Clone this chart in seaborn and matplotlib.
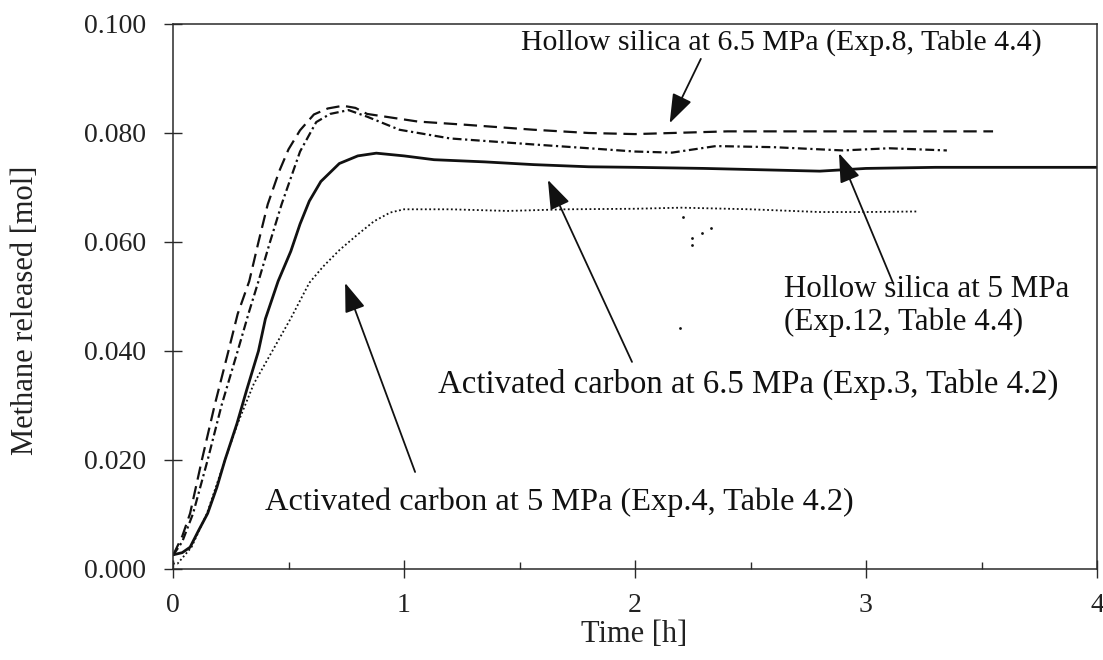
import matplotlib
matplotlib.use("Agg")
import numpy as np
import pandas as pd
import matplotlib.pyplot as plt
import seaborn as sns
from matplotlib.ticker import MultipleLocator, FormatStrFormatter

sns.set_theme(style="ticks")
plt.rcParams["font.family"] = ["Liberation Serif", "DejaVu Serif"]

# Hollow silica at 6.5 MPa (Exp.8)
hs65_t = [0, 0.04, 0.074, 0.125, 0.18, 0.24, 0.28, 0.33, 0.37, 0.41, 0.46, 0.50,
          0.55, 0.61, 0.67, 0.736, 0.79, 0.84, 0.95, 1.06, 1.27, 1.56, 1.8, 2.0,
          2.16, 2.4, 2.8, 3.2, 3.55]
hs65_y = [0.0025, 0.006, 0.0102, 0.020, 0.030, 0.040, 0.0468, 0.0528, 0.060, 0.0669,
          0.0730, 0.0770, 0.0805, 0.0834, 0.0845, 0.0850, 0.0846, 0.0835, 0.0828,
          0.0821, 0.0815, 0.0806, 0.0800, 0.0798, 0.0800, 0.0803, 0.0803, 0.0803, 0.0803]

# Hollow silica at 5 MPa (Exp.12)
hs5_t = [0, 0.04, 0.087, 0.15, 0.21, 0.28, 0.33, 0.37, 0.42, 0.47, 0.55, 0.62, 0.68,
         0.76, 0.84, 0.98, 1.2, 1.56, 1.8, 2.0, 2.16, 2.35, 2.6, 2.9, 3.1, 3.35]
hs5_y = [0.0025, 0.005, 0.0102, 0.020, 0.030, 0.040, 0.0473, 0.0528, 0.060, 0.0669,
         0.0766, 0.0820, 0.0835, 0.0842, 0.0830, 0.0806, 0.0790, 0.0779, 0.0772,
         0.0766, 0.0764, 0.0776, 0.0774, 0.0768, 0.0772, 0.0768]

# Activated carbon at 6.5 MPa (Exp.3)
ac65_t = [0, 0.04, 0.074, 0.11, 0.15, 0.19, 0.225, 0.277, 0.32, 0.37, 0.40, 0.455,
          0.51, 0.55, 0.59, 0.64, 0.72, 0.80, 0.88, 1.0, 1.13, 1.35, 1.56, 1.8, 2.0,
          2.3, 2.6, 2.8, 3.0, 3.3, 3.6, 4.0]
ac65_y = [0.0026, 0.003, 0.004, 0.007, 0.0102, 0.015, 0.020, 0.0267, 0.033, 0.040,
          0.0459, 0.0528, 0.0583, 0.0633, 0.0675, 0.0711, 0.0744, 0.0758, 0.0763,
          0.0758, 0.0751, 0.0747, 0.0742, 0.0738, 0.0737, 0.0735, 0.0732, 0.0730,
          0.0735, 0.0737, 0.0737, 0.0737]

# Activated carbon at 5 MPa (Exp.4)
ac5_t = [0, 0.02, 0.08, 0.147, 0.225, 0.28, 0.35, 0.43, 0.51, 0.59, 0.65, 0.72, 0.80,
         0.87, 0.94, 1.0, 1.2, 1.45, 1.7, 2.0, 2.2, 2.5, 2.8, 3.0, 3.22]
ac5_y = [0.001, 0.001, 0.004, 0.0102, 0.020, 0.0267, 0.034, 0.040, 0.046, 0.0525,
         0.0555, 0.0585, 0.0614, 0.0638, 0.0654, 0.0660, 0.0660, 0.0657, 0.0660,
         0.0661, 0.0663, 0.0660, 0.0655, 0.0655, 0.0656]

# Stray readings of the Exp.4 run
ac5_out_t = [2.195, 2.208, 2.247, 2.247, 2.29, 2.33]
ac5_out_y = [0.0442, 0.0645, 0.0607, 0.0594, 0.0616, 0.0625]

x_ticks = [0, 1, 2, 3, 4]
y_ticks = [0.000, 0.020, 0.040, 0.060, 0.080, 0.100]

series = [
    ("Hollow silica 6.5 MPa", hs65_t, hs65_y, (0, (6, 3)), 1.6),
    ("Hollow silica 5 MPa", hs5_t, hs5_y, (0, (4, 1.6, 1, 1.6)), 1.6),
    ("Activated carbon 6.5 MPa", ac65_t, ac65_y, "-", 2.0),
    ("Activated carbon 5 MPa", ac5_t, ac5_y, (0, (1, 1.4)), 1.3),
]

fig = plt.figure(figsize=(11.03, 6.6), dpi=100)
fig.patch.set_facecolor("white")
ax = fig.add_axes([173 / 1103, 1 - 569 / 660, (1097 - 173) / 1103, (569 - 24) / 660])
ax.set_facecolor("white")

ink = "#111111"
for name, t, y, ls, lw in series:
    df = pd.DataFrame({"Time": t, "Methane": y})
    sns.lineplot(data=df, x="Time", y="Methane", ax=ax, color=ink, linewidth=lw,
                 linestyle=ls, estimator=None, sort=False, legend=False)

sns.scatterplot(x=ac5_out_t, y=ac5_out_y, ax=ax, color=ink, s=4, linewidth=0, legend=False)

ax.set_xlim(0, 4)
ax.set_ylim(0, 0.1)
ax.set_xticks(x_ticks)
ax.set_yticks(y_ticks)
ax.xaxis.set_minor_locator(MultipleLocator(0.5))
ax.yaxis.set_major_formatter(FormatStrFormatter("%.3f"))
ax.xaxis.set_major_formatter(FormatStrFormatter("%d"))

for sp in ax.spines.values():
    sp.set_visible(True)
    sp.set_color("#2a2a2a")
    sp.set_linewidth(1.1)

ax.tick_params(axis="both", which="major", direction="inout", length=13,
               width=1.0, color="#2a2a2a", labelsize=20, labelcolor="#222222")
ax.tick_params(axis="y", which="major", pad=13)
ax.tick_params(axis="x", which="major", pad=11)
ax.tick_params(axis="x", which="minor", direction="in", length=5, width=1.0,
               color="#2a2a2a")
ax.tick_params(top=False, right=False)

ax.set_xlabel("Time [h]", fontsize=22, color="#222222")
ax.set_ylabel("Methane released [mol]", fontsize=22, color="#222222")
ax.xaxis.set_label_coords(0.499, -0.094)
ax.yaxis.set_label_coords(-0.144, 0.475)

txt_kw = dict(color="#111111", ha="left", va="baseline")
ax.text(1.506, 0.0952, "Hollow silica at 6.5 MPa (Exp.8, Table 4.4)", fontsize=21.5, **txt_kw)
ax.text(2.645, 0.0499, "Hollow silica at 5 MPa", fontsize=22.3, **txt_kw)
ax.text(2.645, 0.0439, "(Exp.12, Table 4.4)", fontsize=22.3, **txt_kw)
ax.text(1.147, 0.0323, "Activated carbon at 6.5 MPa (Exp.3, Table 4.2)", fontsize=23.6, **txt_kw)
ax.text(0.398, 0.0108, "Activated carbon at 5 MPa (Exp.4, Table 4.2)", fontsize=23.3, **txt_kw)

arrow_kw = dict(arrowstyle="-|>,head_length=0.9,head_width=0.32", mutation_scale=20,
                lw=1.3, color="#111111", shrinkA=0, shrinkB=0)
arrows = [
    ((2.15, 0.0818), (2.285, 0.0936)),
    ((2.883, 0.0763), (3.117, 0.0525)),
    ((1.623, 0.0714), (1.987, 0.0380)),
    ((0.745, 0.0525), (1.048, 0.0178)),
]
for tip, tail in arrows:
    ax.annotate("", xy=tip, xytext=tail, arrowprops=arrow_kw)

fig.savefig("out.png", dpi=100, facecolor="white")
